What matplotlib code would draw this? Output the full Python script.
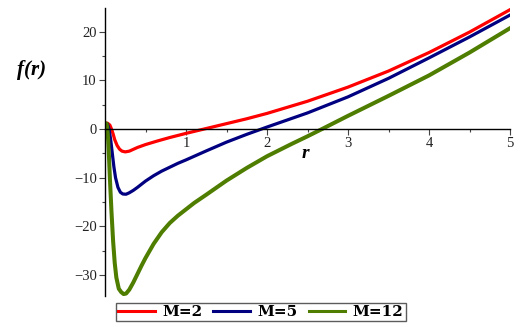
import matplotlib
matplotlib.use('Agg')
import matplotlib.pyplot as plt
from matplotlib.ticker import MultipleLocator

# values
r_m2 = [0.0, 0.03, 0.06, 0.08, 0.10, 0.12, 0.15, 0.18, 0.21, 0.25, 0.30, 0.40, 0.50,
        0.65, 0.80, 1.0, 1.25, 1.5, 1.75, 2.0, 2.5, 3.0, 3.5, 4.0, 4.5, 5.0]
f_m2 = [1.2, 1.2, 0.8, 0.0, -1.0, -2.2, -3.4, -4.15, -4.55, -4.7, -4.55, -3.8, -3.2,
        -2.45, -1.75, -0.9, 0.1, 1.1, 2.1, 3.2, 5.7, 8.6, 11.9, 15.7, 19.9, 24.5]

r_m5 = [0.0, 0.03, 0.05, 0.07, 0.09, 0.11, 0.13, 0.16, 0.19, 0.22, 0.26, 0.30, 0.35,
        0.40, 0.50, 0.60, 0.70, 0.80, 0.90, 1.0, 1.25, 1.5, 1.75, 2.0, 2.5, 3.0, 3.5,
        4.0, 4.5, 5.0]
f_m5 = [1.2, 1.0, 0.0, -2.2, -5.0, -7.8, -10.0, -12.0, -13.0, -13.35, -13.4, -13.1, -12.6,
        -12.0, -10.7, -9.6, -8.65, -7.85, -7.05, -6.35, -4.5, -2.7, -1.1, 0.4, 3.3, 6.6, 10.4,
        14.6, 18.9, 23.4]

r_m12 = [0.0, 0.02, 0.03, 0.04, 0.05, 0.06, 0.08, 0.10, 0.12, 0.14, 0.17, 0.20, 0.23,
         0.26, 0.30, 0.35, 0.40, 0.45, 0.50, 0.60, 0.70, 0.80, 0.90, 1.0, 1.1, 1.25,
         1.5, 1.75, 2.0, 2.3, 2.5, 2.68, 3.0, 3.5, 4.0, 4.5, 5.0]
f_m12 = [1.2, 1.1, 0.0, -2.5, -6.0, -10.0, -17.0, -23.0, -27.5, -30.5, -32.8, -33.5, -33.9,
         -33.8, -33.0, -31.5, -29.8, -28.1, -26.5, -23.6, -21.2, -19.3, -17.8, -16.5, -15.2, -13.5,
         -10.6, -8.0, -5.6, -3.1, -1.5, 0.0, 2.7, 6.8, 11.0, 15.7, 20.7]

labels = ['M=2', 'M=5', 'M=12']
colors = ['#ff0000', '#000080', '#4e7d00']

fig = plt.figure(figsize=(5.23, 3.27), dpi=100)
ax = fig.add_axes([105/523, 1 - 296/327, 405/523, 288/327])

ax.plot(r_m2, f_m2, color=colors[0], lw=2.3, label=labels[0])
ax.plot(r_m5, f_m5, color=colors[1], lw=2.3, label=labels[1])
ax.plot(r_m12, f_m12, color=colors[2], lw=2.9, label=labels[2])

ax.set_xlim(0, 5)
ax.set_ylim(-34.3, 24.85)

ax.spines['left'].set_position(('data', 0))
ax.spines['bottom'].set_position(('data', 0))
ax.spines['top'].set_visible(False)
ax.spines['right'].set_visible(False)
for s in ['left', 'bottom']:
    ax.spines[s].set_linewidth(1.0)

ax.xaxis.set_minor_locator(MultipleLocator(0.5))
ax.yaxis.set_major_locator(MultipleLocator(10))
ax.yaxis.set_minor_locator(MultipleLocator(5))
ax.set_xticks([1, 2, 3, 4, 5])
ax.set_xticklabels(['1', '2', '3', '4', '5'])

for lab in ax.get_xticklabels() + ax.get_yticklabels():
    lab.set_fontfamily('Liberation Serif')
    lab.set_fontsize(10.5)
    lab.set_color('#222222')
ax.tick_params(which='major', length=4, width=0.8, color='#444444', pad=2)
ax.tick_params(which='minor', length=2.5, width=0.8, color='#444444')

fig.text(32/523, 1 - 70/327, 'f(r)', family='Liberation Serif', weight='bold',
         style='italic', fontsize=15, ha='center', va='center')
fig.text(305/523, 1 - 153/327, 'r', family='Liberation Serif', weight='bold',
         style='italic', fontsize=14, ha='center', va='center')

leg = fig.legend(loc='center', bbox_to_anchor=(261/523, 1 - 312/327), ncol=3,
                 frameon=True, fancybox=False, handlelength=2.4, columnspacing=0.7,
                 handletextpad=0.5, borderpad=0.15, borderaxespad=0,
                 prop={'family': 'DejaVu Serif', 'weight': 'bold', 'size': 11})
leg.get_frame().set_edgecolor('#333333')
leg.get_frame().set_linewidth(1.0)
for line in leg.get_lines():
    line.set_linewidth(2.2)

fig.savefig('out.png', dpi=100)
